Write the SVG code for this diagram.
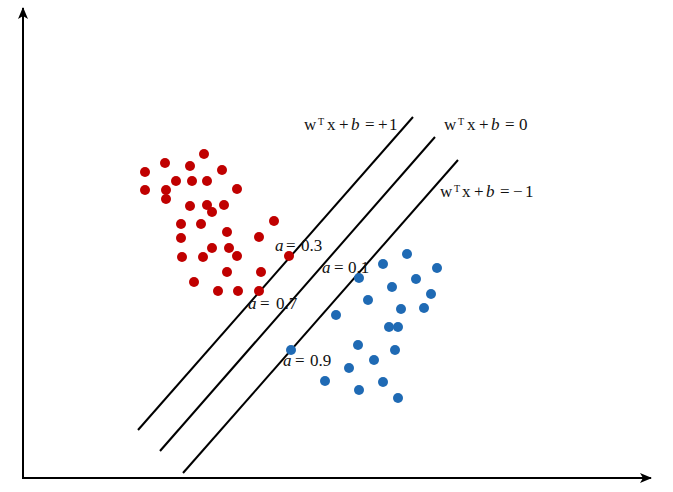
<svg xmlns="http://www.w3.org/2000/svg" width="673" height="492" viewBox="0 0 673 492">
<style>
.ax{stroke:#000;stroke-width:2;fill:none}
.hp{stroke:#000;stroke-width:2;fill:none}
.r{fill:#c00000}
.b{fill:#1f6ab4}
text{font-family:"Liberation Serif","Times New Roman",serif;font-size:17px;fill:#111}
.it{font-style:italic}
.sup{font-size:10px}
</style>
<defs>
<marker id="arr" viewBox="0 0 12 12" refX="11" refY="6" markerWidth="12" markerHeight="12" markerUnits="userSpaceOnUse" orient="auto">
<path d="M0,1 L12,6 L0,11 L3,6 Z" fill="#000"/>
</marker>
</defs>
<rect width="673" height="492" fill="#fff"/>
<g id="axes">
<line class="ax" x1="23" y1="479" x2="23" y2="8" marker-end="url(#arr)"/>
<line class="ax" x1="22" y1="478" x2="651" y2="478" marker-end="url(#arr)"/>
</g>
<g id="hyperplanes">
<line class="hp" x1="138" y1="430" x2="413" y2="117"/>
<line class="hp" x1="160" y1="451" x2="435" y2="137"/>
<line class="hp" x1="183" y1="473" x2="458" y2="160"/>
</g>
<g id="red-points" class="r">
<circle cx="145" cy="172" r="5"/><circle cx="165" cy="163" r="5"/><circle cx="190" cy="166" r="5"/>
<circle cx="204" cy="154" r="5"/><circle cx="222" cy="170" r="5"/><circle cx="145" cy="190" r="5"/>
<circle cx="166" cy="190" r="5"/><circle cx="166" cy="199" r="5"/><circle cx="176" cy="181" r="5"/>
<circle cx="192" cy="181" r="5"/><circle cx="207" cy="181" r="5"/><circle cx="237" cy="189" r="5"/>
<circle cx="190" cy="206" r="5"/><circle cx="207" cy="205" r="5"/><circle cx="212" cy="212" r="5"/>
<circle cx="224" cy="205" r="5"/><circle cx="274" cy="221" r="5"/><circle cx="181" cy="224" r="5"/>
<circle cx="201" cy="224" r="5"/><circle cx="227" cy="232" r="5"/><circle cx="259" cy="237" r="5"/>
<circle cx="181" cy="238" r="5"/><circle cx="212" cy="248" r="5"/><circle cx="229" cy="248" r="5"/>
<circle cx="237" cy="256" r="5"/><circle cx="182" cy="257" r="5"/><circle cx="203" cy="257" r="5"/>
<circle cx="289" cy="256" r="5"/><circle cx="227" cy="272" r="5"/><circle cx="261" cy="272" r="5"/>
<circle cx="194" cy="282" r="5"/><circle cx="218" cy="291" r="5"/><circle cx="238" cy="291" r="5"/>
<circle cx="259" cy="291" r="5"/>
</g>
<g id="blue-points" class="b">
<circle cx="407" cy="254" r="5"/><circle cx="383" cy="264" r="5"/><circle cx="437" cy="268" r="5"/>
<circle cx="359" cy="278" r="5"/><circle cx="416" cy="279" r="5"/><circle cx="392" cy="287" r="5"/>
<circle cx="431" cy="294" r="5"/><circle cx="368" cy="300" r="5"/><circle cx="401" cy="309" r="5"/>
<circle cx="424" cy="308" r="5"/><circle cx="336" cy="315" r="5"/><circle cx="389" cy="327" r="5"/>
<circle cx="398" cy="327" r="5"/><circle cx="291" cy="350" r="5"/><circle cx="358" cy="345" r="5"/>
<circle cx="395" cy="350" r="5"/><circle cx="374" cy="360" r="5"/><circle cx="349" cy="368" r="5"/>
<circle cx="325" cy="381" r="5"/><circle cx="383" cy="382" r="5"/><circle cx="359" cy="390" r="5"/>
<circle cx="398" cy="398" r="5"/>
</g>
<g id="equations">
<text y="130"><tspan x="304">w</tspan><tspan x="318" y="125" class="sup">T</tspan><tspan x="327" y="130">x</tspan><tspan x="339">+</tspan><tspan x="351" class="it">b</tspan><tspan x="365">=</tspan><tspan x="378">+</tspan><tspan x="389">1</tspan></text>
<text y="130"><tspan x="444">w</tspan><tspan x="458" y="125" class="sup">T</tspan><tspan x="467" y="130">x</tspan><tspan x="479">+</tspan><tspan x="491" class="it">b</tspan><tspan x="505">=</tspan><tspan x="519">0</tspan></text>
<text y="197"><tspan x="440">w</tspan><tspan x="454" y="192" class="sup">T</tspan><tspan x="462" y="197">x</tspan><tspan x="474">+</tspan><tspan x="486" class="it">b</tspan><tspan x="500">=</tspan><tspan x="513">−</tspan><tspan x="525">1</tspan></text>
</g>
<g id="alpha-labels">
<text y="251"><tspan x="275" class="it">a</tspan><tspan x="286">=</tspan><tspan x="301">0.3</tspan></text>
<text y="273"><tspan x="322" class="it">a</tspan><tspan x="334">=</tspan><tspan x="348">0.1</tspan></text>
<text y="309"><tspan x="248" class="it">a</tspan><tspan x="260">=</tspan><tspan x="276">0.7</tspan></text>
<text y="366"><tspan x="283" class="it">a</tspan><tspan x="295">=</tspan><tspan x="310">0.9</tspan></text>
</g>
</svg>
